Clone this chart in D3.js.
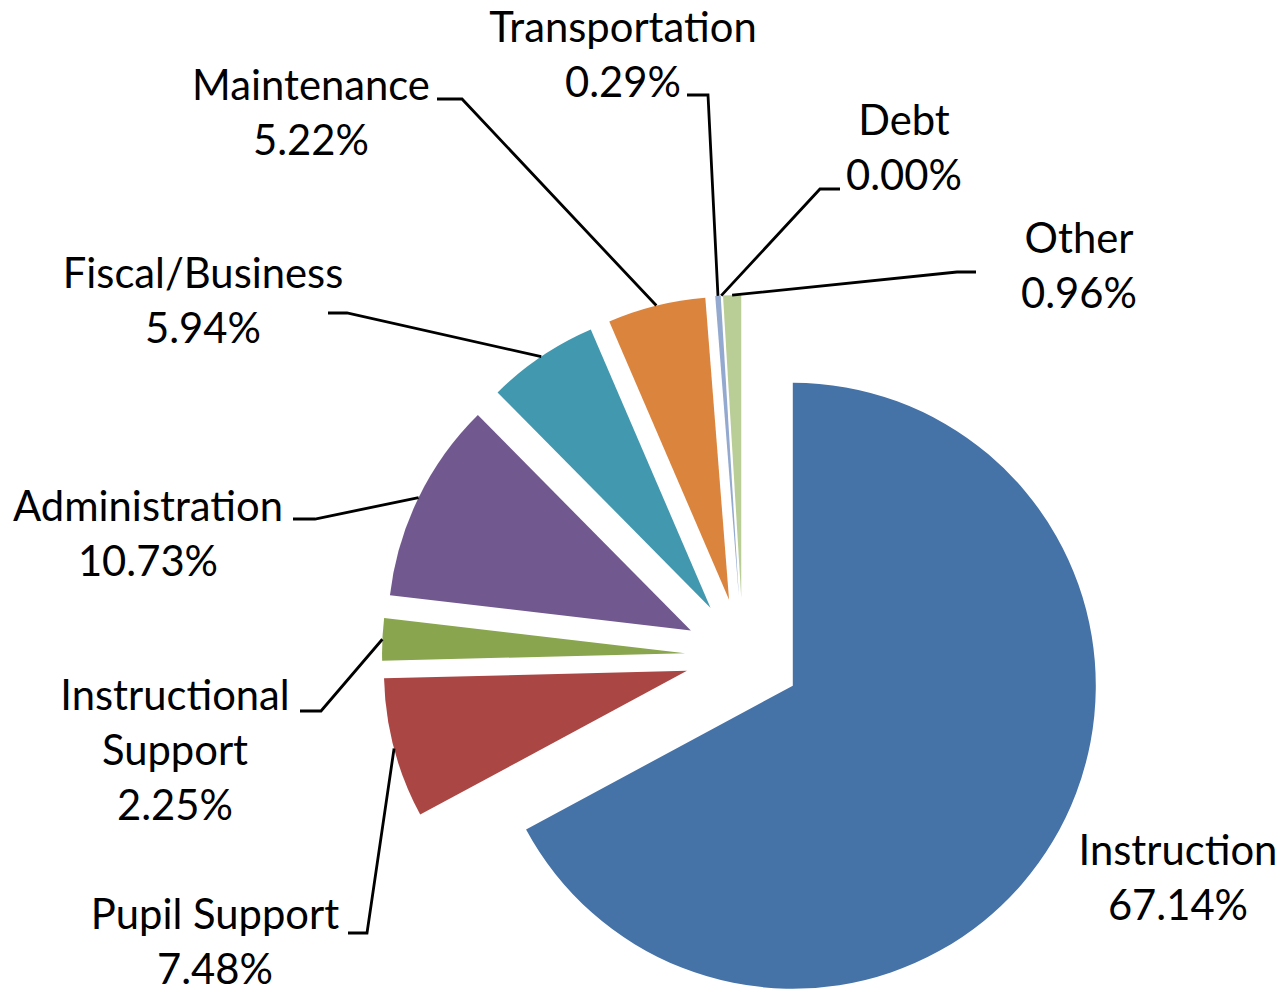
<!DOCTYPE html>
<html>
<head>
<meta charset="utf-8">
<script src="https://cdn.jsdelivr.net/npm/d3@7"></script>
<style>
  html, body { margin: 0; padding: 0; background: #fff; }
  svg { display: block; }
</style>
</head>
<body>
<div id="chart"></div>
<script>
// categories and values (percent of spending)
const categories = ["Instruction", "Pupil Support", "Instructional Support", "Administration",
                    "Fiscal/Business", "Maintenance", "Transportation", "Debt", "Other"];
const values = [67.14, 7.48, 2.25, 10.73, 5.94, 5.22, 0.29, 0.00, 0.96];
const colors = ["#4572A7", "#AA4643", "#89A54E", "#71588F", "#4198AF", "#DB843D", "#93A9CF", "#D19392", "#B9CD96"];

// label text lines (names split as in the original)
const labelLines = [["Instruction"], ["Pupil Support"], ["Instructional", "Support"], ["Administration"],
                    ["Fiscal/Business"], ["Maintenance"], ["Transportation"], ["Debt"], ["Other"]];

// layout: label centre x, first baseline y, leader stub [x0, x1, y] (null = no leader)
const labelLayout = [
  { x: 1178, y: 865, stub: null },
  { x: 215,  y: 929, stub: [348, 367, 933] },
  { x: 175,  y: 710, stub: [300, 321, 711] },
  { x: 148,  y: 521, stub: [293, 315, 519] },
  { x: 203,  y: 288, stub: [328, 347, 313] },
  { x: 311,  y: 100, stub: [437, 462, 99] },
  { x: 623,  y: 42,  stub: [687, 708, 95] },
  { x: 904,  y: 135, stub: [840, 820, 189] },
  { x: 1079, y: 253, stub: [976, 957, 272] }
];

const width = 1285, height = 992;
const cx = 743, cy = 656;      // pie centre before explosion
const radius = 303;
const explode = 58;
const lineH = 55;

const data = categories.map((c, i) => ({ name: c, value: values[i], color: colors[i], lines: labelLines[i], lay: labelLayout[i] }));

const svg = d3.select("#chart").append("svg")
    .attr("width", width)
    .attr("height", height);

const g = svg.append("g").attr("transform", `translate(${cx},${cy})`);

const pie = d3.pie().sort(null).value(d => d.value);
const arcs = pie(data);
const arc = d3.arc().innerRadius(0).outerRadius(radius);
const rimArc = d3.arc().innerRadius(radius).outerRadius(radius);

// explosion offset along each slice's bisector
function offset(d) {
  const a = (d.startAngle + d.endAngle) / 2;
  return [explode * Math.sin(a), -explode * Math.cos(a)];
}

g.selectAll("path.slice")
  .data(arcs)
  .enter()
  .append("path")
    .attr("class", "slice")
    .attr("d", arc)
    .attr("transform", d => { const o = offset(d); return `translate(${o[0]},${o[1]})`; })
    .style("fill", d => d.data.color);

// fit font size so that text width is close to the original Calibri labels
const fontFamily = "Lato, 'Open Sans', sans-serif";
const probe = svg.append("text").attr("font-family", fontFamily).attr("font-size", 45).text("Administration");
const probeW = probe.node().getComputedTextLength();
probe.remove();
const fontSize = 45 * 270 / probeW;

// leader lines
arcs.forEach(d => {
  const s = d.data.lay.stub;
  if (!s) return;
  const o = offset(d);
  const p = rimArc.centroid(d);
  const end = [cx + p[0] + o[0], cy + p[1] + o[1]];
  svg.append("path")
    .attr("d", d3.line()([[s[0], s[2]], [s[1], s[2]], end]))
    .attr("fill", "none")
    .attr("stroke", "#000")
    .attr("stroke-width", 2.8);
});

// labels
arcs.forEach(d => {
  const lay = d.data.lay;
  const lines = d.data.lines.concat([d.data.value.toFixed(2) + "%"]);
  const t = svg.append("text")
    .attr("font-family", fontFamily)
    .attr("font-size", fontSize)
    .attr("fill", "#000")
    .attr("text-anchor", "middle");
  lines.forEach((ln, i) => {
    t.append("tspan").attr("x", lay.x).attr("y", lay.y + i * lineH).text(ln);
  });
});
</script>
</body>
</html>
